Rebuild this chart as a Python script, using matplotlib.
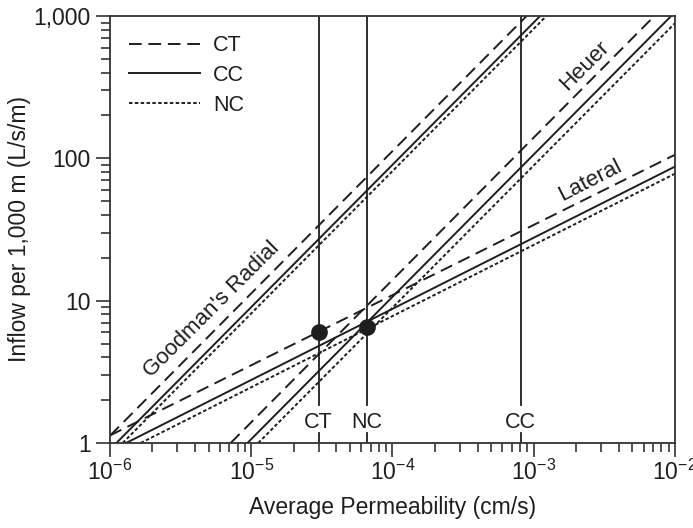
import matplotlib
matplotlib.use("Agg")
import matplotlib.pyplot as plt
from matplotlib.ticker import LogLocator, FuncFormatter

plt.rcParams['font.family'] = ['Liberation Sans', 'DejaVu Sans']
plt.rcParams['mathtext.default'] = 'regular'
plt.rcParams['axes.unicode_minus'] = False

ink = '#1e1e1e'

# line end points (x in cm/s, y in L/s/m)
goodman_x = {'CT': [1.0e-6, 8.9e-4], 'CC': [1.11e-6, 1.11e-3], 'NC': [1.23e-6, 1.23e-3]}
goodman_y = {'CT': [1.125, 1000], 'CC': [1, 1000], 'NC': [1, 1000]}
heuer_x = {'CT': [7.15e-6, 7.15e-3], 'CC': [9.4e-6, 9.4e-3], 'NC': [1.12e-5, 1.0e-2]}
heuer_y = {'CT': [1, 1000], 'CC': [1, 1000], 'NC': [1, 890]}
lateral_x = {'CT': [1.0e-6, 1.0e-2], 'CC': [1.3e-6, 1.0e-2], 'NC': [1.65e-6, 1.0e-2]}
lateral_y = {'CT': [1.13, 106], 'CC': [1, 87.5], 'NC': [1, 78]}

cases = ['CT', 'CC', 'NC']
case_k = [3.0e-5, 8.1e-4, 6.6e-5]      # vertical lines
point_k = [3.0e-5, 6.6e-5]
point_q = [6.05, 6.5]

styles = {'CT': (0, (6.5, 3.5)), 'CC': '-', 'NC': (0, (1.8, 1.2))}

fig = plt.figure(figsize=(6.93, 5.28), dpi=100)
ax = fig.add_axes([0.1587, 0.161, 0.8153, 0.8087])
ax.set_xscale('log')
ax.set_yscale('log')
ax.set_xlim(1e-6, 1e-2)
ax.set_ylim(1, 1000)

lw = 1.4
for c in cases:
    ax.plot(goodman_x[c], goodman_y[c], color=ink, lw=lw, ls=styles[c], label=c)
    ax.plot(heuer_x[c], heuer_y[c], color=ink, lw=lw, ls=styles[c])
    ax.plot(lateral_x[c], lateral_y[c], color=ink, lw=lw, ls=styles[c])

for c, k in zip(cases, case_k):
    ax.plot([k, k], [1.85, 1000], color=ink, lw=1.3)
    ax.plot([k, k], [1, 1.18], color=ink, lw=1.3)
    ax.text(k, 1.4, c, ha='center', va='center', fontsize=15.5, color=ink)

ax.plot(point_k, point_q, 'o', color=ink, ms=11, zorder=5)

ax.text(5.24e-6, 8.6, "Goodman's Radial", rotation=45, ha='center', va='center',
        fontsize=16, color=ink)
ax.text(2.31e-3, 450, 'Heuer', rotation=45, ha='center', va='center',
        fontsize=16, color=ink)
ax.text(2.5e-3, 70, 'Lateral', rotation=27, ha='center', va='center',
        fontsize=16, color=ink)

leg = ax.legend(loc='upper left', frameon=False, fontsize=15.5, handlelength=3.3,
                handletextpad=0.6, labelspacing=0.4)
for t in leg.get_texts():
    t.set_color(ink)

for s in ax.spines.values():
    s.set_color('#333333')
    s.set_linewidth(1.3)

ax.xaxis.set_major_locator(LogLocator(base=10, numticks=10))
ax.xaxis.set_minor_locator(LogLocator(base=10, subs=range(2, 10), numticks=10))
ax.yaxis.set_minor_locator(LogLocator(base=10, subs=range(2, 10), numticks=10))
ax.yaxis.set_major_formatter(FuncFormatter(lambda v, p: '{:,.0f}'.format(v)))
ax.tick_params(which='major', direction='out', length=10, width=1.2, color='#333333',
               labelsize=16.5, labelcolor=ink, pad=4)
ax.tick_params(which='minor', direction='out', length=6.5, width=1.2, color='#333333')
ax.tick_params(axis='x', which='major', pad=2)

ax.set_xlabel('Average Permeability (cm/s)', fontsize=16.5, color=ink, labelpad=8)
ax.set_ylabel('Inflow per 1,000 m (L/s/m)', fontsize=16.5, color=ink, labelpad=2)

fig.savefig('out.png', dpi=100)
